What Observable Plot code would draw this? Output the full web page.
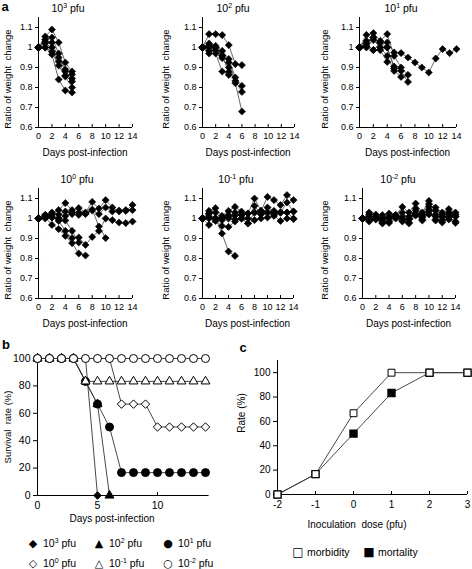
<!DOCTYPE html>
<html><head><meta charset="utf-8">
<script src="https://cdn.jsdelivr.net/npm/d3@7"></script>
<script src="https://cdn.jsdelivr.net/npm/@observablehq/plot@0.6"></script>
<style>
html,body{margin:0;padding:0;background:#fff;}
#root{position:relative;width:472px;height:569px;overflow:hidden;font-family:"Liberation Sans",Arial,sans-serif;color:#000;}
.t{position:absolute;white-space:nowrap;line-height:1;}
sup{font-size:66%;vertical-align:0.5em;line-height:0;}
.g{font-family:"DejaVu Sans",sans-serif;}
</style></head><body><div id="root"></div>
<script>
// ---------- DATA ----------
// Panel a: body-weight ratio per mouse, index = day post-infection
const w_1e3 = [
  [1, 1.055, 1.09, 1.025, 0.925, 0.88],
  [1, 1.04, 1.05, 0.97, 0.89, 0.865],
  [1, 1.03, 1.025, 0.95, 0.88, 0.845],
  [1, 1.02, 1.0, 0.93, 0.86, 0.83],
  [1, 1.0, 0.98, 0.91, 0.855, 0.80],
  [1, 1.0, 0.965, 0.84, 0.785, 0.775]
];
const w_1e2 = [
  [1, 1.067, 1.067, 1.062, 1.012, 0.917, 0.912],
  [1, 1.02, 1.008, 0.983, 0.942, 0.85, 0.808],
  [1, 1.012, 1.0, 0.958, 0.925, 0.833, 0.778],
  [1, 0.983, 1.0, 0.947, 0.9, 0.822, 0.68],
  [1, 0.97, 0.97, 0.88, 0.863],
  [1, 1.0, 0.985, 0.96, 0.878]
];
const w_1e1 = [
  [1, 1.02, 0.987, 1.025, 1.025, 0.975, 0.972, 0.95, 0.925, 0.9, 0.875, 0.945, 0.992, 0.972, 0.992],
  [1, 1.063, 1.072, 1.033, 1.067, 0.958, 0.9, 0.863],
  [1, 1.033, 1.05, 1.0, 1.0, 0.905, 0.883, 0.828],
  [1, 1.008, 1.037, 1.0, 0.958, 0.883, 0.853],
  [1, 1.02, 1.05, 1.025, 1.0, 0.895],
  [1, 1.0, 0.987, 0.987, 0.928]
];
const w_1e0 = [
  [1, 1.017, 1.03, 1.042, 1.077, 1.042, 1.052, 1.03, 1.083, 1.05, 1.092, 1.055, 1.035, 1.038, 1.068],
  [1, 1.008, 1.022, 1.02, 1.035, 1.022, 1.018, 1.022, 1.04, 1.022, 1.055, 1.035, 1.04, 1.042, 1.042],
  [1, 1.0, 1.005, 0.988, 0.938, 0.902, 0.905, 0.868, 0.908, 0.938, 1.0, 0.992, 0.98, 0.977, 0.985],
  [1, 1.017, 1.02, 1.0, 1.013, 1.03, 1.03, 1.025, 1.045, 0.96, 0.902],
  [1, 1.008, 0.968, 0.947, 0.913, 0.877, 0.825, 0.815],
  [1, 1.017, 1.005, 1.0, 0.99, 0.938, 0.88]
];
const w_1em1 = [
  [1, 1.038, 1.052, 1.013, 1.038, 1.058, 1.035, 1.025, 1.1, 1.038, 1.108, 1.092, 1.067, 1.117, 1.092],
  [1, 1.025, 1.03, 1.0, 1.0, 1.03, 1.018, 1.0, 1.063, 1.022, 1.055, 1.038, 1.03, 1.08, 1.035],
  [1, 1.008, 1.0, 0.992, 1.017, 0.995, 1.0, 0.975, 1.03, 1.022, 1.03, 1.03, 1.03, 1.03, 1.035],
  [1, 0.968, 0.988, 0.963, 0.958, 0.985, 1.0, 0.975, 0.992, 1.0, 1.005, 1.013, 0.988, 1.0, 0.997],
  [1, 1.0, 1.0, 1.005, 1.01, 1.015, 1.018, 1.025, 1.03, 1.038, 1.03, 1.02, 1.03, 1.03, 1.0],
  [1, 1.025, 1.0, 0.925, 0.835, 0.813]
];
const w_1em2 = [
  [1, 1.03, 1.02, 1.017, 1.025, 1.017, 1.058, 1.03, 1.075, 1.03, 1.088, 1.055, 1.03, 1.047, 1.03],
  [1, 1.02, 1.005, 1.0, 1.01, 1.017, 1.03, 1.0, 1.05, 1.02, 1.072, 1.04, 1.02, 1.03, 1.02],
  [1, 1.0, 1.0, 0.99, 1.0, 1.005, 1.0, 0.995, 1.04, 1.005, 1.06, 1.02, 1.005, 1.02, 1.01],
  [1, 0.99, 0.998, 0.975, 0.985, 1.01, 0.99, 0.98, 1.025, 0.995, 1.045, 0.995, 0.99, 1.005, 0.985],
  [1, 0.985, 0.995, 0.98, 0.978, 1.0, 0.985, 0.975, 1.015, 0.99, 1.035, 0.99, 0.98, 0.995, 0.978],
  [1, 1.01, 1.01, 1.005, 1.005, 1.01, 1.01, 1.01, 1.02, 1.01, 1.02, 1.01, 1.01, 1.01, 1.01]
];
const weightTitles = ["10<sup>3</sup> pfu", "10<sup>2</sup> pfu", "10<sup>1</sup> pfu",
                      "10<sup>0</sup> pfu", "10<sup>-1</sup> pfu", "10<sup>-2</sup> pfu"];
const weightXTicks = [0, 2, 4, 6, 8, 10, 12, 14];
const weightYTicks = [0.6, 0.7, 0.8, 0.9, 1, 1.1];

// Panel b: survival rate (%) per day
const surv_1e3  = [100, 100, 100, 100, 100, 0];
const surv_1e2  = [100, 100, 100, 100, 83.3, 66.7, 0];
const surv_1e1  = [100, 100, 100, 100, 83.3, 66.7, 50, 16.7, 16.7, 16.7, 16.7, 16.7, 16.7, 16.7, 16.7];
const surv_1e0  = [100, 100, 100, 100, 100, 100, 100, 66.7, 66.7, 66.7, 50, 50, 50, 50, 50];
const surv_1em1 = [100, 100, 100, 100, 83.3, 83.3, 83.3, 83.3, 83.3, 83.3, 83.3, 83.3, 83.3, 83.3, 83.3];
const surv_1em2 = [100, 100, 100, 100, 100, 100, 100, 100, 100, 100, 100, 100, 100, 100, 100];
const survXTicks = [0, 5, 10];
const survYTicks = [0, 20, 40, 60, 80, 100];

// Panel c: rate vs log10 inoculation dose
const doses = [-2, -1, 0, 1, 2, 3];
const morbidity = [0, 16.7, 66.7, 100, 100, 100];
const mortality = [0, 16.7, 50, 83.3, 100, 100];
const rateYTicks = [0, 20, 40, 60, 80, 100];

// ---------- LAYOUT ----------
const root = document.getElementById("root");
const FONT = '"Liberation Sans", Arial, sans-serif';
function place(el, left, top) {
  const d = document.createElement("div");
  d.style.position = "absolute"; d.style.left = left + "px"; d.style.top = top + "px";
  d.appendChild(el); root.appendChild(d);
}
function txt(html, x, y, o = {}) {
  const d = document.createElement("div");
  d.className = "t" + (o.cls ? " " + o.cls : "");
  d.innerHTML = html;
  d.style.left = x + "px"; d.style.top = y + "px";
  d.style.fontSize = (o.size || 10) + "px";
  if (o.bold) d.style.fontWeight = "bold";
  const tx = o.anchor === "start" ? "0" : o.anchor === "end" ? "-100%" : "-50%";
  d.style.transform = `translate(${tx},-50%)` + (o.rotate ? ` rotate(${o.rotate}deg)` : "");
  root.appendChild(d);
}

const weightSeries = [w_1e3, w_1e2, w_1e1, w_1e0, w_1em1, w_1em2];
const wLayout = [
  {ax0: 38, ax1: 132, top: 0, title: [68, 8], ylab: 8},
  {ax0: 202, ax1: 294, top: 0, title: [233, 8], ylab: 166},
  {ax0: 359, ax1: 456, top: 0, title: [401, 8], ylab: 325},
  {ax0: 38, ax1: 132, top: 171, title: [77, 179], ylab: 8},
  {ax0: 202, ax1: 293, top: 171, title: [236, 179], ylab: 166},
  {ax0: 362, ax1: 455, top: 171, title: [398, 179], ylab: 325}
];

txt("a", 5, 6, {size: 13, bold: true});

weightSeries.forEach((series, i) => {
  const L = wLayout[i];
  const rows = series.flatMap((s, m) => s.map((v, d) => ({mouse: m, day: d, w: v})));
  const mL = 36, W = 36 + (L.ax1 - L.ax0) + 12;
  const chart = Plot.plot({
    width: W, height: 160,
    marginLeft: mL, marginRight: W - mL - (L.ax1 - L.ax0),
    marginTop: 17, marginBottom: 33,
    style: {fontFamily: FONT, fontSize: "9px", background: "transparent", overflow: "visible"},
    x: {domain: [0, 14]},
    y: {domain: [0.6, 1.15]},
    marks: [
      Plot.axisX({ticks: weightXTicks, tickSize: -3, tickPadding: 8, label: null}),
      Plot.axisY({ticks: weightYTicks, tickSize: 3, tickPadding: 3, tickFormat: d => `${d}`, label: null}),
      Plot.ruleX([0], {stroke: "#000", strokeWidth: 1}),
      Plot.ruleY([0.6], {stroke: "#000", strokeWidth: 1}),
      Plot.line(rows, {x: "day", y: "w", z: "mouse", stroke: "#444", strokeWidth: 0.8}),
      Plot.dot(rows, {x: "day", y: "w", symbol: "diamond2", fill: "#000", stroke: "#000", strokeWidth: 0.6, r: 3.2})
    ]
  });
  place(chart, L.ax0 - mL, L.top);
  txt(weightTitles[i], L.title[0], L.title[1], {size: 10.5});
  txt("Ratio of weight&nbsp; change", L.ylab, L.top + 79, {size: 9.5, rotate: -90});
  txt("Days post-infection", (L.ax0 + L.ax1) / 2, L.top + 153, {size: 10});
});

// ---------- Panel b ----------
const survSeries = [
  {v: surv_1e3, symbol: "diamond2", fill: "#000", r: 3.4},
  {v: surv_1e2, symbol: "triangle", fill: "#000", r: 3.3},
  {v: surv_1e1, symbol: "circle", fill: "#000", r: 4},
  {v: surv_1e0, symbol: "diamond2", fill: "#fff", r: 3.8},
  {v: surv_1em1, symbol: "triangle", fill: "#fff", r: 3.3},
  {v: surv_1em2, symbol: "circle", fill: "#fff", r: 4}
];
{
  const mL = 37, W = 222, H = 182;
  const top = 340; // y=100 at 358, y=0 at 495
  const marks = [
    Plot.axisX({ticks: survXTicks, tickSize: -3, tickPadding: 9, label: null}),
    Plot.axisY({ticks: survYTicks, tickSize: 4, tickPadding: 3, label: null}),
    Plot.ruleX([0], {stroke: "#000"}),
    Plot.ruleY([0], {stroke: "#000"})
  ];
  survSeries.forEach(s => {
    const rows = s.v.map((v, d) => ({day: d, rate: v}));
    marks.push(Plot.line(rows, {x: "day", y: "rate", stroke: "#333", strokeWidth: 0.9}));
    marks.push(Plot.dot(rows, {x: "day", y: "rate", symbol: s.symbol, fill: s.fill, stroke: "#000", strokeWidth: 1, r: s.r}));
  });
  const chart = Plot.plot({
    width: W, height: H, marginLeft: mL, marginRight: W - mL - 12 * 14.3,
    marginTop: 18, marginBottom: H - 155,
    style: {fontFamily: FONT, fontSize: "10.5px", background: "transparent", overflow: "visible"},
    x: {domain: [0, 14.3]},
    y: {domain: [0, 100]},
    marks
  });
  place(chart, 0, top);
  txt("b", 6, 344, {size: 13, bold: true});
  txt("Survival&nbsp; rate (%)", 8, 427, {size: 9.5, rotate: -90});
  txt("Days post-infection", 112, 519, {size: 10});
}

// ---------- Panel c ----------
{
  const mL = 41, W = 236, H = 165, top = 355; // y=0 at 494, x=-2 at 277, x=3 at 467
  const rowsM = doses.map((d, i) => ({dose: d, rate: morbidity[i]}));
  const rowsD = doses.map((d, i) => ({dose: d, rate: mortality[i]}));
  const chart = Plot.plot({
    width: W, height: H, marginLeft: mL, marginRight: W - mL - 190,
    marginTop: 5, marginBottom: H - 139,
    style: {fontFamily: FONT, fontSize: "10px", background: "transparent", overflow: "visible"},
    x: {domain: [-2, 3]},
    y: {domain: [0, 110]},
    marks: [
      Plot.axisX({ticks: doses, tickSize: -3, tickPadding: 9, tickFormat: d => `${d}`, label: null}),
      Plot.axisY({ticks: rateYTicks, tickSize: 4, tickPadding: 3, label: null}),
      Plot.ruleX([-2], {stroke: "#000"}),
      Plot.ruleY([0], {stroke: "#000"}),
      Plot.line(rowsD, {x: "dose", y: "rate", stroke: "#333", strokeWidth: 0.9}),
      Plot.dot(rowsD, {x: "dose", y: "rate", symbol: "square", fill: "#000", stroke: "#000", r: 3.9}),
      Plot.line(rowsM, {x: "dose", y: "rate", stroke: "#333", strokeWidth: 0.9}),
      Plot.dot(rowsM, {x: "dose", y: "rate", symbol: "square", fill: "#fff", stroke: "#000", strokeWidth: 1, r: 3.9})
    ]
  });
  place(chart, 277 - mL, top);
  txt("c", 243, 347, {size: 13, bold: true});
  txt("Rate (%)", 242, 413, {size: 10, rotate: -90});
  txt("Inoculation&nbsp; dose (pfu)", 357, 525, {size: 10});
}

// ---------- Legends ----------
const legendB = [
  {g: "◆", label: "10<sup>3</sup> pfu", x: 33, y: 543},
  {g: "▲", label: "10<sup>2</sup> pfu", x: 99, y: 543},
  {g: "●", label: "10<sup>1</sup> pfu", x: 168, y: 543},
  {g: "◇", label: "10<sup>0</sup> pfu", x: 33, y: 563},
  {g: "△", label: "10<sup>-1</sup> pfu", x: 99, y: 563},
  {g: "○", label: "10<sup>-2</sup> pfu", x: 168, y: 563}
];
legendB.forEach(l => {
  txt(l.g, l.x, l.y, {size: 11, cls: "g"});
  txt(l.label, l.x + 10, l.y, {size: 10.5, anchor: "start"});
});
const legendC = [
  {g: "□", label: "morbidity", x: 298, y: 552},
  {g: "■", label: "mortality", x: 369, y: 552}
];
legendC.forEach(l => {
  txt(l.g, l.x, l.y, {size: 12, cls: "g"});
  txt(l.label, l.x + 9, l.y, {size: 10.5, anchor: "start"});
});
</script>
</body></html>
